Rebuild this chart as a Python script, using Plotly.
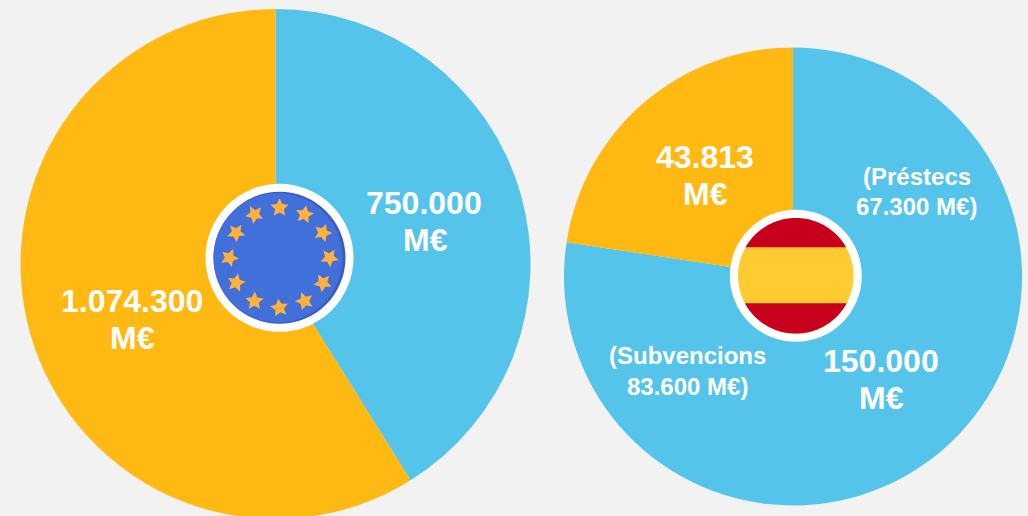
import numpy as np
import plotly.graph_objects as go

W, H = 1028, 530   # canvas is taller than the window: the left pie runs off the bottom edge

EU_LABELS = ["Aportació", "Resta"]
EU_VALUES = [750000, 1074300]
ES_LABELS = ["Aportació", "Resta"]
ES_VALUES = [150000, 43813]
COLORS = ["#55C4EA", "#FFB912"]
BG = "#F2F2F2"
FONT = "Liberation Sans"

BIG_LABELS = [("750.000", 424, 203), ("M€", 425, 240),
              ("1.074.300", 132, 301), ("M€", 132, 338),
              ("43.813", 704.5, 157), ("M€", 705.5, 194),
              ("150.000", 880.5, 361), ("M€", 881.5, 398)]
SMALL_LABELS = [("(Préstecs", 917, 176), ("67.300 M€)", 916.5, 206),
                ("(Subvencions", 687.5, 355), ("83.600 M€)", 687.5, 386)]


def pie(values, labels, cx, cy, r):
    return go.Pie(values=values, labels=labels, sort=False, direction="clockwise",
                  rotation=0, textinfo="none", hoverinfo="label+value", showlegend=False,
                  marker=dict(colors=COLORS, line=dict(width=0)),
                  domain=dict(x=[(cx - r) / W, (cx + r) / W],
                              y=[(H - cy - r) / H, (H - cy + r) / H]))


def circle(cx, cy, r, color):
    return dict(type="circle", xref="x", yref="y", x0=cx - r, x1=cx + r, y0=cy - r, y1=cy + r,
                fillcolor=color, line=dict(width=0), layer="above")


def poly(points, color):
    d = "M" + " L".join(f"{x:.2f},{y:.2f}" for x, y in points) + " Z"
    return dict(type="path", xref="x", yref="y", path=d, fillcolor=color,
                line=dict(width=0), layer="above")


def star(cx, cy, ro, ri, rot):
    a = np.radians(rot) - np.pi / 2 + np.arange(10) * np.pi / 5
    r = np.where(np.arange(10) % 2 == 0, ro, ri)
    return list(zip(cx + r * np.cos(a), cy + r * np.sin(a)))


shapes = []
# EU flag
ex, ey = 279.5, 257.8
shapes.append(circle(ex, ey, 74, "#FFFFFF"))
shapes.append(circle(ex, ey, 66, "#3C5CC4"))
shapes.append(circle(ex - 1.5, ey, 64.5, "#4270DB"))
for i in range(12):
    t = np.radians(i * 30)
    shapes.append(poly(star(ex + 50 * np.sin(t), ey - 50 * np.cos(t), 9.5, 4.6, i * 30 * 0.35),
                       "#FFB13B"))

# Spanish flag
sx, sy = 795.8, 275.8
shapes.append(circle(sx, sy, 66, "#FFFFFF"))
shapes.append(circle(sx, sy, 57.8, "#FFCB30"))
R = 57.8
for y_edge, sign in ((247.3, -1), (303.3, 1)):
    h = abs(y_edge - sy)
    a0 = np.arcsin(h / R)
    ang = np.linspace(a0, np.pi - a0, 60)
    pts = [(sx + R * np.cos(a), sy + sign * R * np.sin(a)) for a in ang]
    shapes.append(poly(pts, "#C8001E"))

annotations = []
for text, x, y in BIG_LABELS:
    annotations.append(dict(text=text, x=x, y=y, xref="x", yref="y", showarrow=False,
                            xanchor="center", yanchor="middle",
                            font=dict(family=FONT, size=32, color="#FFFFFF", weight="bold")))
for text, x, y in SMALL_LABELS:
    annotations.append(dict(text=text, x=x, y=y, xref="x", yref="y", showarrow=False,
                            xanchor="center", yanchor="middle",
                            font=dict(family=FONT, size=24, color="#FFFFFF", weight="bold")))

fig = go.Figure([pie(EU_VALUES, EU_LABELS, 275.5, 264, 255),
                 pie(ES_VALUES, ES_LABELS, 793, 276.5, 229)])
fig.update_layout(width=W, height=H, autosize=False, margin=dict(l=0, r=0, t=0, b=0, pad=0),
                  paper_bgcolor=BG, plot_bgcolor=BG, shapes=shapes, annotations=annotations,
                  xaxis=dict(range=[0, W], visible=False, fixedrange=True),
                  yaxis=dict(range=[H, 0], visible=False, fixedrange=True))
fig.write_html("out.html", config=dict(displayModeBar=False, responsive=False),
               post_script="document.documentElement.style.overflow='hidden';"
                           "document.body.style.margin='0';document.body.style.overflow='hidden';"
                           "document.body.style.background='" + BG + "';")
